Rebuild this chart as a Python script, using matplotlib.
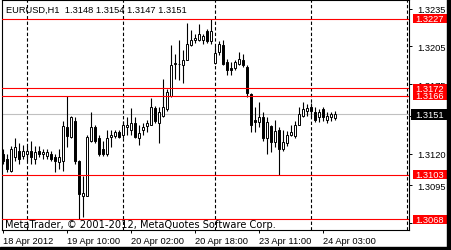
import matplotlib
matplotlib.use("Agg")
import matplotlib.pyplot as plt
from matplotlib.patches import Rectangle
import numpy as np

# EURUSD H1 bars, 18 Apr 18:00 .. 24 Apr 06:00
opens = [1.3120, 1.3116, 1.3106, 1.3117, 1.3122, 1.3118, 1.3120, 1.3122, 1.3116, 1.3122,
         1.3120, 1.3118, 1.3120, 1.3117, 1.3113, 1.3114, 1.3141, 1.3133, 1.3146, 1.3114,
         1.3086, 1.3086, 1.3130, 1.3141, 1.3132, 1.3124, 1.3120, 1.3133, 1.3134, 1.3137,
         1.3135, 1.3141, 1.3139, 1.3144, 1.3132, 1.3139, 1.3142, 1.3143, 1.3156, 1.3144,
         1.3150, 1.3155, 1.3166, 1.3191, 1.3191, 1.3190, 1.3194, 1.3206, 1.3210, 1.3210,
         1.3210, 1.3217, 1.3209, 1.3192, 1.3201, 1.3206, 1.3193, 1.3188, 1.3188, 1.3191,
         1.3194, 1.3189, 1.3167, 1.3147, 1.3145, 1.3149, 1.3132, 1.3142, 1.3129, 1.3139,
         1.3124, 1.3128, 1.3135, 1.3134, 1.3143, 1.3150, 1.3154, 1.3157, 1.3153, 1.3149,
         1.3155, 1.3147, 1.3149, 1.3148]
highs = [1.3124, 1.3120, 1.3126, 1.3132, 1.3128, 1.3127, 1.3126, 1.3130, 1.3126, 1.3126,
         1.3124, 1.3124, 1.3122, 1.3120, 1.3124, 1.3146, 1.3166, 1.3150, 1.3149, 1.3115,
         1.3102, 1.3135, 1.3153, 1.3143, 1.3135, 1.3130, 1.3139, 1.3139, 1.3139, 1.3139,
         1.3146, 1.3149, 1.3156, 1.3149, 1.3143, 1.3144, 1.3147, 1.3164, 1.3158, 1.3157,
         1.3179, 1.3171, 1.3206, 1.3199, 1.3210, 1.3202, 1.3224, 1.3218, 1.3215, 1.3223,
         1.3215, 1.3219, 1.3227, 1.3205, 1.3209, 1.3210, 1.3195, 1.3193, 1.3194, 1.3201,
         1.3199, 1.3190, 1.3168, 1.3157, 1.3161, 1.3153, 1.3149, 1.3143, 1.3147, 1.3141,
         1.3139, 1.3138, 1.3143, 1.3146, 1.3157, 1.3161, 1.3159, 1.3160, 1.3157, 1.3155,
         1.3157, 1.3153, 1.3153, 1.3154]
lows = [1.3112, 1.3105, 1.3105, 1.3114, 1.3112, 1.3116, 1.3114, 1.3112, 1.3112, 1.3117,
        1.3116, 1.3116, 1.3114, 1.3105, 1.3108, 1.3106, 1.3125, 1.3132, 1.3112, 1.3068,
        1.3070, 1.3086, 1.3129, 1.3128, 1.3118, 1.3118, 1.3118, 1.3125, 1.3132, 1.3132,
        1.3132, 1.3135, 1.3135, 1.3132, 1.3127, 1.3135, 1.3137, 1.3143, 1.3144, 1.3128,
        1.3149, 1.3154, 1.3165, 1.3179, 1.3178, 1.3176, 1.3194, 1.3205, 1.3208, 1.3209,
        1.3207, 1.3208, 1.3207, 1.3191, 1.3198, 1.3190, 1.3182, 1.3182, 1.3186, 1.3190,
        1.3189, 1.3165, 1.3137, 1.3137, 1.3141, 1.3130, 1.3120, 1.3121, 1.3125, 1.3103,
        1.3122, 1.3126, 1.3134, 1.3132, 1.3143, 1.3149, 1.3150, 1.3149, 1.3145, 1.3145,
        1.3146, 1.3144, 1.3146, 1.3147]
closes = [1.3114, 1.3108, 1.3124, 1.3125, 1.3116, 1.3122, 1.3122, 1.3117, 1.3121, 1.3120,
          1.3121, 1.3121, 1.3116, 1.3114, 1.3117, 1.3142, 1.3134, 1.3149, 1.3114, 1.3088,
          1.3089, 1.3133, 1.3141, 1.3130, 1.3120, 1.3120, 1.3132, 1.3135, 1.3137, 1.3133,
          1.3143, 1.3143, 1.3144, 1.3133, 1.3136, 1.3141, 1.3144, 1.3157, 1.3146, 1.3153,
          1.3157, 1.3169, 1.3190, 1.3192, 1.3191, 1.3194, 1.3207, 1.3210, 1.3212, 1.3215,
          1.3213, 1.3209, 1.3217, 1.3200, 1.3207, 1.3191, 1.3186, 1.3186, 1.3193, 1.3195,
          1.3190, 1.3168, 1.3143, 1.3145, 1.3149, 1.3132, 1.3145, 1.3129, 1.3138, 1.3124,
          1.3129, 1.3135, 1.3137, 1.3143, 1.3151, 1.3155, 1.3156, 1.3154, 1.3147, 1.3153,
          1.3149, 1.3150, 1.3151, 1.3151]

time_ticks = [0, 16, 32, 48, 64, 80]
time_labels = ["18 Apr 2012", "19 Apr 10:00", "20 Apr 02:00",
               "20 Apr 18:00", "23 Apr 11:00", "24 Apr 03:00"]
day_breaks = [6, 30, 53, 77, 101]

price_ticks = [1.3235, 1.3205, 1.3175, 1.3150, 1.3120, 1.3095, 1.3065]
# tick labels that sit fully under a price label are not visible
price_tick_labels = ["1.3235", "1.3205", "1.3175", "", "1.3120", "1.3095", ""]
levels = [1.3227, 1.3172, 1.3166, 1.3103, 1.3068]
bid = 1.3151
symbol = "EURUSD,H1"
copyright_text = "MetaTrader, \u00a9 2001-2012, MetaQuotes Software Corp."

plt.rcParams["font.family"] = ["Liberation Sans", "DejaVu Sans"]
fs = 6.7

W, H = 451, 251
PX = 1 / 12600.0  # price per pixel
fig = plt.figure(figsize=(W / 100, H / 100), dpi=100)
fig.patch.set_facecolor("white")
ax_w = 409 - 1.5
ax = fig.add_axes([1.5 / W, (H - 231) / H, ax_w / W, 230 / H])
ax.set_facecolor("white")

x = np.arange(len(opens))
o = np.array(opens)
c = np.array(closes)
up = c >= o

ax.vlines(x, lows, highs, color="black", linewidth=0.8, zorder=2)
ax.bar(x, np.abs(c - o), bottom=np.minimum(o, c), width=0.55,
       color=np.where(up, "white", "black"), edgecolor="black",
       linewidth=0.7, zorder=3)

for b in day_breaks:
    ax.axvline(b, color="black", linewidth=0.8, dashes=(3, 2), zorder=1)

ax.axhline(bid, color="#c0c0c0", linewidth=0.8, zorder=1)
for lv in levels:
    ax.axhline(lv, color="red", linewidth=0.8, zorder=4)

ax.set_xlim(-0.375, 101.5)
ax.set_ylim(1.30593, 1.32419)

ax.set_xticks(time_ticks)
ax.set_xticklabels(time_labels, fontsize=fs, ha="left")
ax.tick_params(axis="x", length=2.5, width=0.7, pad=1.5, direction="out")
ax.yaxis.tick_right()
ax.set_yticks(price_ticks)
ax.set_yticklabels(price_tick_labels, fontsize=fs)
ax.tick_params(axis="y", length=2.5, width=0.7, pad=3.5, direction="out")
for s in ax.spines.values():
    s.set_linewidth(0.8)

ytr = ax.get_yaxis_transform()


def price_label(price, x0, x1, h, fc):
    ax.add_patch(Rectangle(((x0 - 1.5) / ax_w, price - h / 2 * PX),
                           (x1 - x0) / ax_w, h * PX, transform=ytr,
                           fc=fc, ec="none", clip_on=False, zorder=5))
    ax.text((415.5 - 1.5) / ax_w, price, f"{price:.4f}", transform=ytr,
            fontsize=fs, color="white", va="center", ha="left",
            clip_on=False, zorder=6)


for lv in levels:
    price_label(lv, 412.5, 446.5, 9, "red")
price_label(bid, 410.5, 451, 10.5, "black")

head = f"{symbol}  {opens[-1]:.4f} {highs[-1]:.4f} {lows[-1]:.4f} {closes[-1]:.4f}"
ax.text(4.5 / ax_w, 1 - 9.5 / 230, head, transform=ax.transAxes, fontsize=fs,
        va="center", ha="left", zorder=6)
ax.text(3.5 / ax_w, 6 / 230, copyright_text, transform=ax.transAxes,
        fontsize=7.1, family="DejaVu Sans", va="center", ha="left", zorder=6)

# black border strips at the right and bottom edges
fig.patches.append(Rectangle((447 / W, 0), 4 / W, 1, transform=fig.transFigure,
                             color="black", zorder=0))
fig.patches.append(Rectangle((0, 0), 1, 3.5 / H, transform=fig.transFigure,
                             color="black", zorder=0))

fig.savefig("out.png", dpi=100)
